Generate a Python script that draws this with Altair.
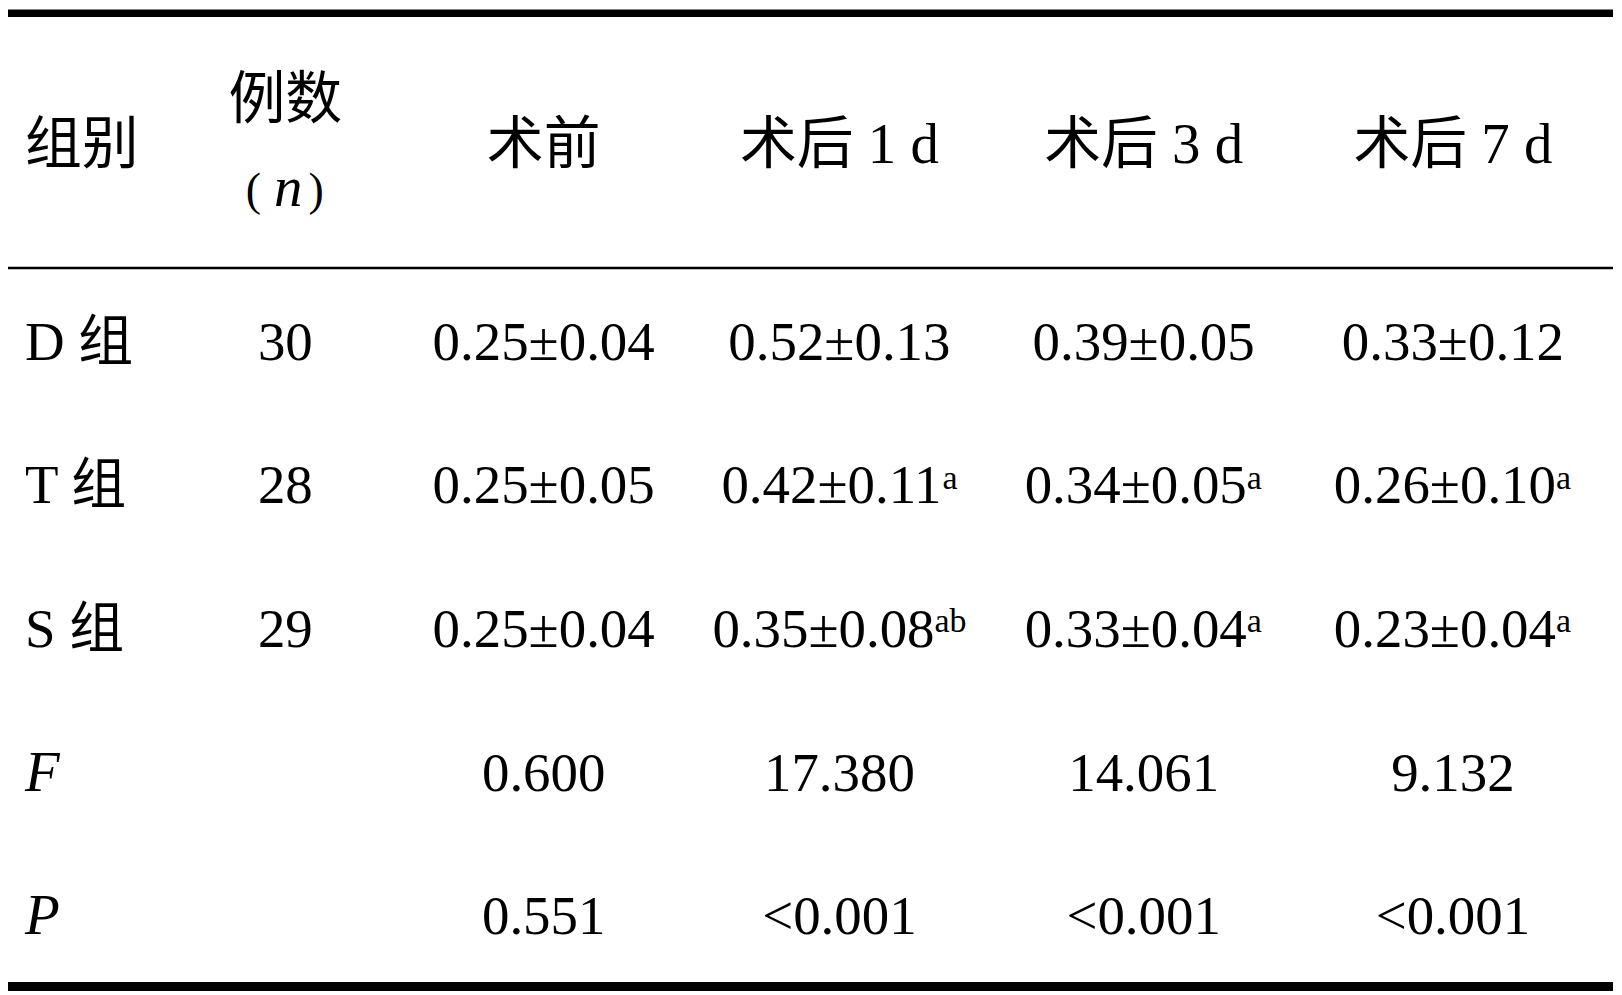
import altair as alt
import pandas as pd

header_label = "组别"
header_n_top = "例数"
header_n_var = "n"
header_parens = ["(", ")"]
header_times = ["术前", "术后 1 d", "术后 3 d", "术后 7 d"]

groups = ["D 组", "T 组", "S 组"]
n_cases = ["30", "28", "29"]
pre_op = ["0.25±0.04", "0.25±0.05", "0.25±0.04"]
post_1d = ["0.52±0.13", "0.42±0.11", "0.35±0.08"]
post_1d_sup = ["", "a", "ab"]
post_3d = ["0.39±0.05", "0.34±0.05", "0.33±0.04"]
post_3d_sup = ["", "a", "a"]
post_7d = ["0.33±0.12", "0.26±0.10", "0.23±0.04"]
post_7d_sup = ["", "a", "a"]
stat_labels = ["F", "P"]
f_values = ["0.600", "17.380", "14.061", "9.132"]
p_values = ["0.551", "<0.001", "<0.001", "<0.001"]

# ---------------- layout (kept apart from the data) ----------------
W, H = 1610, 985
FONT = "Liberation Serif, Noto Sans CJK SC, serif"
FS_HEAD = 57
FS_BODY = 55
FS_SUP = 34
FS_PAREN = 46

COL_X = {"label": 17, "n": 278, "pre": 537, "d1": 833.5, "d3": 1138.5, "d7": 1448.5}
PAREN_X = [246, 309]
N_VAR_X = 281
TIME_COLS = ["pre", "d1", "d3", "d7"]
ROW_BASE = {"hdr_top": 108.7, "hdr": 154, "paren": 196, "hdr_bot": 197,
            "D": 352, "T": 495.5, "S": 639, "F": 784, "P": 927}
GROUP_ROWS = ["D", "T", "S"]
STAT_ROWS = ["F", "P"]
MAIN_W = 4.049 * FS_BODY          # advance width of a "d.dd±d.dd" string
SUP_SHIFT = {"": 0, "a": -8, "ab": -16}
SUP_GAP = 0
SUP_RISE = 15
RULES = {"y": [4, 259.5, 979.8], "w": [7.4, 2.5, 9.0]}

xs = alt.Scale(domain=[0, W], range=[0, W], nice=False, zero=False)
ys = alt.Scale(domain=[0, H], range=[0, H], nice=False, zero=False)


def text_layer(df, size, align="center", style="normal", dx=0):
    return alt.Chart(df).mark_text(
        font=FONT, fontSize=size, align=align, baseline="alphabetic",
        fontStyle=style, color="#000000", dx=dx
    ).encode(
        x=alt.X("x:Q", scale=xs, axis=None),
        y=alt.Y("y:Q", scale=ys, axis=None),
        text="text:N",
    )


# header
hdr_left = pd.DataFrame({"x": [COL_X["label"]], "y": [ROW_BASE["hdr"]], "text": [header_label]})
hdr_center = pd.DataFrame({
    "x": [COL_X["n"]] + [COL_X[c] for c in TIME_COLS],
    "y": [ROW_BASE["hdr_top"]] + [ROW_BASE["hdr"]] * len(TIME_COLS),
    "text": [header_n_top] + header_times,
})
hdr_paren = pd.DataFrame({"x": PAREN_X, "y": [ROW_BASE["paren"]] * 2, "text": header_parens})
hdr_var = pd.DataFrame({"x": [N_VAR_X], "y": [ROW_BASE["hdr_bot"]], "text": [header_n_var]})

# body
body_left = pd.DataFrame({"x": [COL_X["label"]] * 3,
                          "y": [ROW_BASE[r] for r in GROUP_ROWS], "text": groups})
stat_left = pd.DataFrame({"x": [COL_X["label"]] * 2,
                          "y": [ROW_BASE[r] for r in STAT_ROWS], "text": stat_labels})

cells = []
for i, r in enumerate(GROUP_ROWS):
    cells.append((COL_X["n"], ROW_BASE[r], n_cases[i], ""))
    cells.append((COL_X["pre"], ROW_BASE[r], pre_op[i], ""))
    cells.append((COL_X["d1"], ROW_BASE[r], post_1d[i], post_1d_sup[i]))
    cells.append((COL_X["d3"], ROW_BASE[r], post_3d[i], post_3d_sup[i]))
    cells.append((COL_X["d7"], ROW_BASE[r], post_7d[i], post_7d_sup[i]))
for j, c in enumerate(TIME_COLS):
    cells.append((COL_X[c], ROW_BASE["F"], f_values[j], ""))
    cells.append((COL_X[c], ROW_BASE["P"], p_values[j], ""))

cell_df = pd.DataFrame(cells, columns=["cx", "y", "text", "sup"])
cell_df["x"] = cell_df["cx"] + cell_df["sup"].map(SUP_SHIFT)
body_center = cell_df[["x", "y", "text"]]

sup_df = cell_df[cell_df["sup"] != ""].copy()
sup_df["x"] = sup_df["x"] + MAIN_W / 2 + SUP_GAP
sup_df["y"] = sup_df["y"] - SUP_RISE
sup_df["text"] = sup_df["sup"]
sup_df = sup_df[["x", "y", "text"]]

rules_df = pd.DataFrame({"x0": [0] * 3, "x1": [W - 1] * 3, "y": RULES["y"], "w": RULES["w"]})
rules = alt.Chart(rules_df).mark_rule(color="#000000").encode(
    x=alt.X("x0:Q", scale=xs, axis=None),
    x2="x1:Q",
    y=alt.Y("y:Q", scale=ys, axis=None),
    strokeWidth=alt.StrokeWidth("w:Q", scale=None, legend=None),
)

chart = alt.layer(
    rules,
    text_layer(hdr_left, FS_HEAD, align="left"),
    text_layer(hdr_center, FS_HEAD),
    text_layer(hdr_paren, FS_PAREN),
    text_layer(hdr_var, FS_HEAD, style="italic"),
    text_layer(body_left, FS_BODY, align="left"),
    text_layer(stat_left, FS_BODY + 2, align="left", style="italic"),
    text_layer(body_center, FS_BODY),
    text_layer(sup_df, FS_SUP, align="left"),
).properties(
    width=W, height=H, padding=0, autosize=alt.AutoSizeParams(type="none"),
    background="#ffffff",
).configure_view(stroke=None)

chart.save("out.html", embed_options={"renderer": "svg", "actions": False})
